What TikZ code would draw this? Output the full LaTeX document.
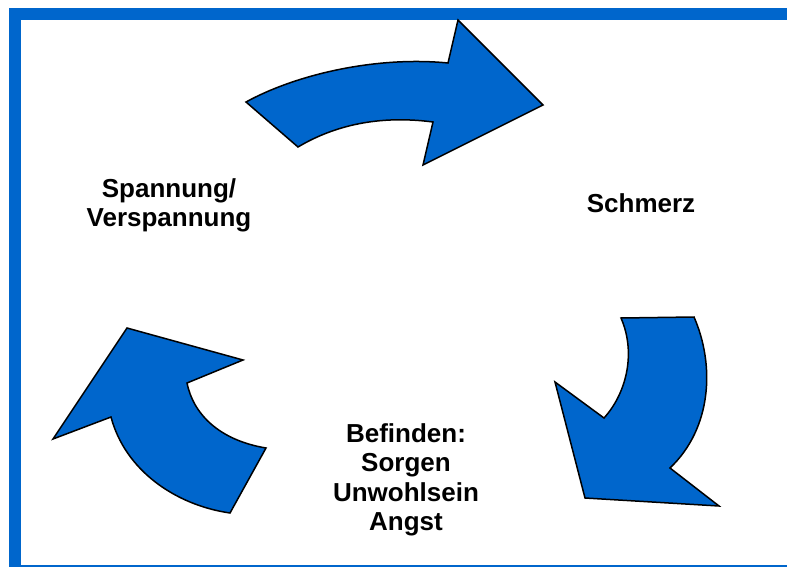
\documentclass[tikz,border=0pt]{standalone}
\usepackage{fontspec}
\setmainfont{Liberation Sans}
\definecolor{cycblue}{RGB}{0,102,204}
\begin{document}
\begin{tikzpicture}[x=1pt,y=-1pt,
  cyclearrow/.style={fill=cycblue,draw=black,line width=1.5pt,line join=miter},
  lbl/.style={font=\bfseries\fontsize{26}{29.5}\selectfont,align=center,inner sep=0pt,anchor=north}]
\useasboundingbox (0,0) rectangle (787,567);
\clip (0,0) rectangle (787,567);
% frame
\draw[cycblue,line width=12pt] (15,14) rectangle (810,571);
% top arrow
\draw[cyclearrow] (246,102) .. controls (297,74) and (377,56) .. (448,63) -- (458,20) -- (543,105) -- (423,165) -- (433,122)
  .. controls (380,115) and (335,125) .. (298,147) -- cycle;
% right arrow
\draw[cyclearrow] (621,318) -- (694,317) .. controls (715,365) and (712,428) .. (670,468) -- (719,506) -- (585,498) -- (555,382) -- (604,418)
  .. controls (625,395) and (637,355) .. (621,318) -- cycle;
% left arrow
\draw[cyclearrow] (127,328) -- (243,360) -- (187,383) .. controls (193,413) and (218,440) .. (266,448) -- (230,513)
  .. controls (175,505) and (125,470) .. (111,417) -- (53,439) -- cycle;
% labels
\node[lbl] (spannung) at (169,178) {Spannung/\\Verspannung};
\node[lbl] (schmerz) at (641,193) {Schmerz};
\node[lbl] (befinden) at (406,423) {Befinden:\\Sorgen\\Unwohlsein\\Angst};
\end{tikzpicture}
\end{document}
